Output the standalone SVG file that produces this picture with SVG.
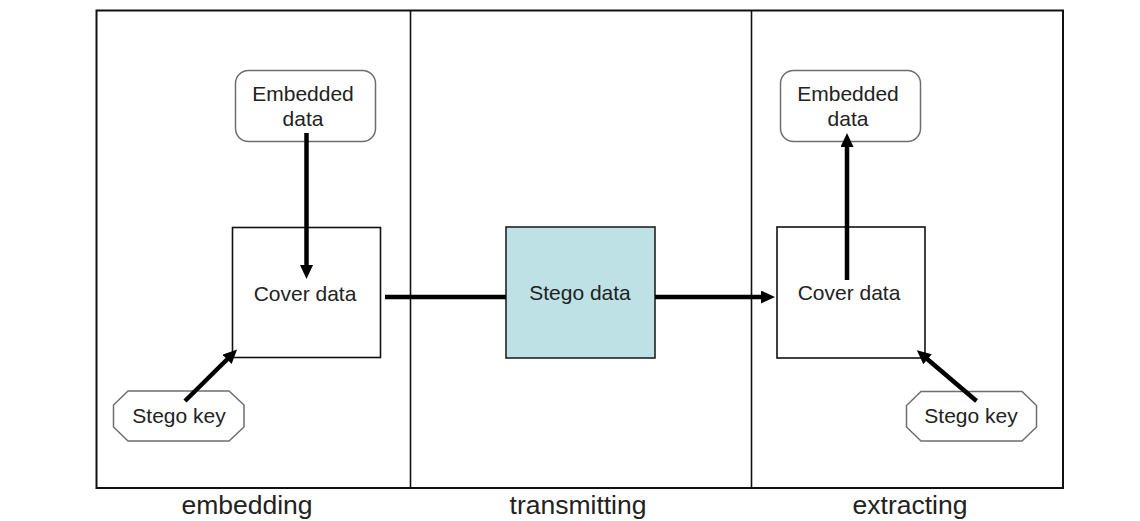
<svg xmlns="http://www.w3.org/2000/svg" width="1140" height="521" viewBox="0 0 1140 521">
<style>
.frame{fill:none;stroke:#111;stroke-width:2}
.div{stroke:#111;stroke-width:1.6}
.box{fill:#fff;stroke:#111;stroke-width:1.6}
.soft{fill:#fff;stroke:#6e6e6e;stroke-width:1.5}
.stego{fill:#bde1e4;stroke:#222;stroke-width:1.6}
.t{font-family:"Liberation Sans",Arial,sans-serif;font-size:21px;fill:#222;text-anchor:middle}
.lbl{font-family:"Liberation Sans",Arial,sans-serif;font-size:26.5px;fill:#222;text-anchor:middle}
.conn{stroke:#000;stroke-width:4.5;fill:none}
</style>
<defs>
<marker id="ah" markerUnits="userSpaceOnUse" markerWidth="16" markerHeight="14" refX="2" refY="6.5" orient="auto">
<path d="M0,0 L14,6.5 L0,13 z" fill="#000"/>
</marker>
</defs>
<g id="frame">
<rect class="frame" x="96.5" y="10.5" width="966.5" height="477.5"/>
<line class="div" x1="410.5" y1="10.5" x2="410.5" y2="488"/>
<line class="div" x1="751.5" y1="10.5" x2="751.5" y2="488"/>
<text class="lbl" x="247" y="514">embedding</text>
<text class="lbl" x="578" y="514">transmitting</text>
<text class="lbl" x="910" y="514">extracting</text>
</g>
<g id="embedded-data-left">
<rect class="soft" x="235.5" y="70.5" width="140" height="71" rx="13"/>
<text class="t" x="303" y="101">Embedded</text>
<text class="t" x="303" y="126">data</text>
</g>
<g id="cover-data-left">
<rect class="box" x="232.5" y="227.5" width="148" height="130"/>
<text class="t" x="305" y="301">Cover data</text>
</g>
<g id="stego-key-left">
<polygon class="soft" points="128,391 229,391 244,405 244,427 229,441 128,441 113.5,427 113.5,405"/>
<text class="t" x="179" y="423">Stego key</text>
</g>
<g id="stego-data">
<rect class="stego" x="506" y="227" width="149" height="131"/>
<text class="t" x="580" y="300">Stego data</text>
</g>
<g id="embedded-data-right">
<rect class="soft" x="780.5" y="70.5" width="140" height="71" rx="13"/>
<text class="t" x="848" y="101">Embedded</text>
<text class="t" x="848" y="126">data</text>
</g>
<g id="cover-data-right">
<rect class="box" x="777" y="227" width="148" height="131"/>
<text class="t" x="849" y="300">Cover data</text>
</g>
<g id="stego-key-right">
<polygon class="soft" points="921,391.5 1022,391.5 1036.5,405.5 1036.5,427 1022,441 921,441 906.5,427 906.5,405.5"/>
<text class="t" x="971" y="423">Stego key</text>
</g>
<g id="connectors">
<line class="conn" x1="306.5" y1="133" x2="306.5" y2="267" marker-end="url(#ah)"/>
<line class="conn" x1="185" y1="401" x2="228.5" y2="358" marker-end="url(#ah)"/>
<line class="conn" x1="385" y1="297" x2="506" y2="297"/>
<line class="conn" x1="655" y1="297" x2="763" y2="297" marker-end="url(#ah)"/>
<line class="conn" x1="847" y1="280" x2="847" y2="145" marker-end="url(#ah)"/>
<line class="conn" x1="976.5" y1="401" x2="926" y2="358" marker-end="url(#ah)"/>
</g>
</svg>
